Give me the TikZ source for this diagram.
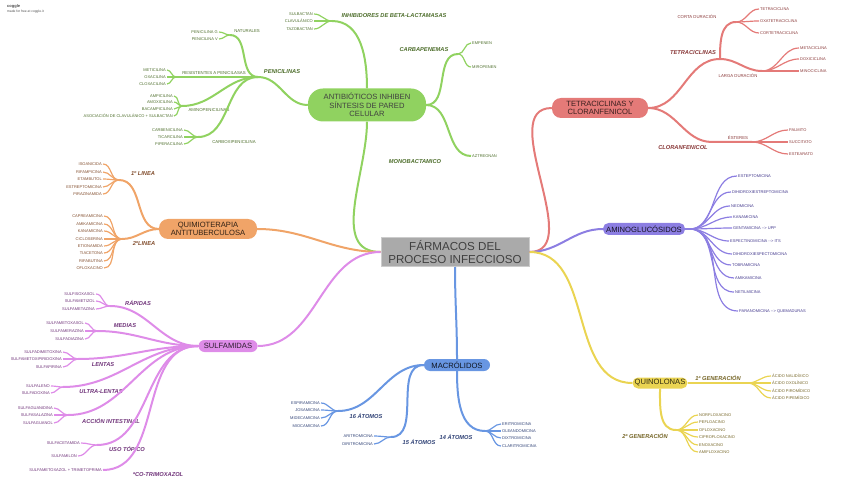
\documentclass[tikz,border=0pt]{standalone}
\usepackage{fontspec}
\setmainfont{Liberation Sans}
\usepackage{tikz}
\usetikzlibrary{positioning}
\usepackage{xcolor}
\definecolor{grn}{RGB}{144,210,96}
\definecolor{gtx}{RGB}{78,110,44}
\definecolor{red}{RGB}{228,122,120}
\definecolor{rtx}{RGB}{138,58,58}
\definecolor{prp}{RGB}{140,126,226}
\definecolor{ptx}{RGB}{66,56,140}
\definecolor{ylw}{RGB}{234,212,82}
\definecolor{ytx}{RGB}{118,102,40}
\definecolor{blu}{RGB}{104,150,226}
\definecolor{btx}{RGB}{48,66,118}
\definecolor{org}{RGB}{240,164,104}
\definecolor{otx}{RGB}{130,78,46}
\definecolor{pnk}{RGB}{222,140,232}
\definecolor{mtx}{RGB}{112,52,122}
\definecolor{gry}{RGB}{170,170,170}
\newcommand{\leaffont}{\fontsize{4}{4.6}\selectfont}
\newcommand{\midfont}{\fontsize{4.3}{5}\selectfont}
\newcommand{\grpfont}{\fontsize{5.7}{6.5}\selectfont\bfseries\itshape}
\newcommand{\topfont}{\fontsize{7.6}{8.6}\selectfont}

\begin{document}
\begin{tikzpicture}[
    x=1pt, y=-1pt,
    topic/.style={
      rectangle, fill=#1, font=\topfont, align=center, inner sep=0pt
    },
    branch/.style={draw=#1, line width=2pt},
    twig/.style={draw=#1, line width=1.2pt},
    leafL/.style={anchor=east, font=\leaffont, text=#1, inner sep=1pt},
    leafR/.style={anchor=west, font=\leaffont, text=#1, inner sep=1pt},
    mid/.style={font=\midfont, text=#1, inner sep=0pt},
    grp/.style={font=\grpfont, text=#1, inner sep=0pt}
  ]
  \useasboundingbox (0,0) rectangle (848,486);

  % --- Watermark ---
  \node[anchor=west, inner sep=0pt, font=\fontsize{4}{5}\selectfont\bfseries, text=black!70] (cg) at (7,6) {coggle};
  \node[anchor=west, inner sep=0pt, font=\fontsize{3.3}{4}\selectfont, text=black!70] (cgmade) at (7,12) {made for free at coggle.it};

  % --- Main topics ---
  \node[topic=gry, draw=black!20, line width=1pt, minimum width=148, minimum height=29,
    font=\fontsize{11.6}{13}\selectfont, text=black!75] (farm) at (455,252)
    {FÁRMACOS DEL\\PROCESO INFECCIOSO};
  \node[topic=grn, rounded corners=15pt, minimum width=118, minimum height=33, text=black!75] (antib) at (367,105)
    {ANTIBIÓTICOS INHIBEN\\SÍNTESIS DE PARED\\CELULAR};
  \node[topic=red, rounded corners=9pt, minimum width=96, minimum height=20, text=black!75!red] (tetra) at (600,108)
    {TETRACICLINAS Y\\CLORANFENICOL};
  \node[topic=prp, rounded corners=5.5pt, minimum width=82, minimum height=12, text=black!85!prp] (amino) at (644,229)
    {AMINOGLUCÓSIDOS};
  \node[topic=ylw, rounded corners=5.5pt, minimum width=55, minimum height=11, text=black!80!ylw] (quin) at (660,383)
    {QUINOLONAS};
  \node[topic=blu, rounded corners=6pt, minimum width=66, minimum height=12, text=black!85!blu] (macro) at (457,365)
    {MACRÓLIDOS};
  \node[topic=pnk, rounded corners=6pt, minimum width=59, minimum height=12, text=black!80!pnk] (sulf) at (228,346)
    {SULFAMIDAS};
  \node[topic=org, rounded corners=9pt, minimum width=98, minimum height=20, text=black!80!org] (quim) at (208,229)
    {QUIMIOTERAPIA\\ANTITUBERCULOSA};

  \draw[branch=grn] (farm.west) to[out=180,in=270] (antib.south);
  \draw[branch=org] (farm.west) to[out=180,in=0] (quim.east);
  \draw[branch=pnk] (farm.west) to[out=180,in=0] (sulf.east);
  \draw[branch=red] (farm.east) to[out=0,in=180] (tetra.west);
  \draw[branch=prp] (farm.east) to[out=0,in=180] (amino.west);
  \draw[branch=ylw] (farm.east) to[out=0,in=180] (quin.west);
  \draw[branch=blu] (farm.south) to[out=270,in=90] (macro.north);

  % --- Green: cell wall ---
  \coordinate (penHub) at (258,77);
  \coordinate (natSplit) at (230,35);
  \coordinate (resSplit) at (176,77);
  \coordinate (amiSplit) at (182,106);
  \coordinate (carSplit) at (198,137);
  \coordinate (inhSplit) at (332,21);
  \coordinate (cbpSplit) at (458,54);

  \node[grp=gtx] (penLbl) at (282,72) {PENICILINAS};
  \node[mid=gtx] (natLbl) at (247,31) {NATURALES};
  \node[mid=gtx] (resLbl) at (214,73) {RESISTENTES A PENICILASAS};
  \node[mid=gtx] (amiLbl) at (209,110) {AMINOPENICILINAS};
  \node[mid=gtx] (carLbl) at (234,142) {CARBOXIPENICILINA};
  \node[grp=gtx] (inhLbl) at (394,16) {INHIBIDORES DE BETA-LACTAMASAS};
  \node[grp=gtx] (cbpLbl) at (424,50) {CARBAPENEMAS};
  \node[grp=gtx] (monLbl) at (415,162) {MONOBACTAMICO};

  \node[leafL=gtx] (penG) at (219,32) {PENICILINA G};
  \node[leafL=gtx] (penV) at (219,39) {PENICILINA V};
  \node[leafL=gtx] (meti) at (167,70) {METICILINA};
  \node[leafL=gtx] (oxac) at (167,77) {OXACILINA};
  \node[leafL=gtx] (clox) at (167,84) {CLOXACILINA};
  \node[leafL=gtx] (ampi) at (174,96) {AMPICILINA};
  \node[leafL=gtx] (amox) at (174,102) {AMOXICILINA};
  \node[leafL=gtx] (baca) at (174,109) {BACAMPICILINA};
  \node[leafL=gtx] (asoc) at (174,116) {ASOCIACIÓN DE CLAVULÁNICO + SULBACTAN};
  \node[leafL=gtx] (carb) at (184,130) {CARBENICILINA};
  \node[leafL=gtx] (tica) at (184,137) {TICARCILINA};
  \node[leafL=gtx] (pipe) at (184,144) {PIPERACILINA};
  \node[leafL=gtx] (sulb) at (314,14) {SULBACTAN};
  \node[leafL=gtx] (clav) at (314,21) {CLAVULÁNICO};
  \node[leafL=gtx] (tazo) at (314,29) {TAZOBACTAN};
  \node[leafR=gtx] (empe) at (471,43) {EMPENEN};
  \node[leafR=gtx] (miro) at (471,67) {MIROPENEN};
  \node[leafR=gtx] (aztr) at (471,156) {AZTREONAN};

  \draw[branch=grn] (antib.west) to[out=180,in=0] (penHub);
  \draw[branch=grn] (penHub) to[out=180,in=0] (natSplit);
  \draw[branch=grn] (penHub) -- (resSplit);
  \draw[branch=grn] (penHub) to[out=180,in=0] (amiSplit);
  \draw[branch=grn] (penHub) to[out=180,in=0] (carSplit);
  \draw[branch=grn] (antib.north) to[out=90,in=0] (inhSplit);
  \draw[branch=grn] (antib.east) to[out=0,in=180] (cbpSplit);
  \draw[branch=grn] (antib.east) to[out=0,in=180] (aztr.west);
  \draw[twig=grn] (natSplit) to[out=180,in=0] (penG.east);
  \draw[twig=grn] (natSplit) to[out=180,in=0] (penV.east);
  \draw[twig=grn] (resSplit) to[out=180,in=0] (meti.east);
  \draw[twig=grn] (resSplit) to[out=180,in=0] (oxac.east);
  \draw[twig=grn] (resSplit) to[out=180,in=0] (clox.east);
  \draw[twig=grn] (amiSplit) to[out=180,in=0] (ampi.east);
  \draw[twig=grn] (amiSplit) to[out=180,in=0] (amox.east);
  \draw[twig=grn] (amiSplit) to[out=180,in=0] (baca.east);
  \draw[twig=grn] (amiSplit) to[out=180,in=0] (asoc.east);
  \draw[twig=grn] (carSplit) to[out=180,in=0] (carb.east);
  \draw[twig=grn] (carSplit) to[out=180,in=0] (tica.east);
  \draw[twig=grn] (carSplit) to[out=180,in=0] (pipe.east);
  \draw[twig=grn] (inhSplit) to[out=180,in=0] (sulb.east);
  \draw[twig=grn] (inhSplit) to[out=180,in=0] (clav.east);
  \draw[twig=grn] (inhSplit) to[out=180,in=0] (tazo.east);
  \draw[twig=grn] (cbpSplit) to[out=0,in=180] (empe.west);
  \draw[twig=grn] (cbpSplit) to[out=0,in=180] (miro.west);

  % --- Red: tetraciclinas ---
  \coordinate (tetHub) at (720,59);
  \coordinate (corSplit) at (736,22);
  \coordinate (larSplit) at (762,71);
  \coordinate (cloHub) at (712,142);
  \coordinate (estSplit) at (752,142);

  \node[grp=rtx] (tetLbl) at (693,53) {TETRACICLINAS};
  \node[mid=rtx] (corLbl) at (697,17) {CORTA DURACIÓN};
  \node[mid=rtx] (larLbl) at (738,76) {LARGA DURACIÓN};
  \node[grp=rtx] (cloLbl) at (683,148) {CLORANFENICOL};
  \node[mid=rtx] (estLbl) at (738,138) {ÉSTERES};

  \node[leafR=rtx] (tetr) at (759,9) {TETRACICLINA};
  \node[leafR=rtx] (oxat) at (759,21) {OXATETRACICLINA};
  \node[leafR=rtx] (cort) at (759,33) {CORTETRACICLINA};
  \node[leafR=rtx] (meta) at (799,48) {METACICLINA};
  \node[leafR=rtx] (doxi) at (799,59) {DOXICICLINA};
  \node[leafR=rtx] (mino) at (799,71) {MINOCICLINA};
  \node[leafR=rtx] (palm) at (788,130) {PALMITO};
  \node[leafR=rtx] (succ) at (788,142) {SUCCITATO};
  \node[leafR=rtx] (este) at (788,154) {ESTEARATO};

  \draw[branch=red] (tetra.east) to[out=0,in=180] (tetHub);
  \draw[branch=red] (tetHub) to[out=90,in=180] (corSplit);
  \draw[branch=red] (tetHub) to[out=0,in=180] (larSplit);
  \draw[branch=red] (tetra.east) to[out=0,in=180] (cloHub) -- (estSplit);
  \draw[twig=red] (corSplit) to[out=0,in=180] (tetr.west);
  \draw[twig=red] (corSplit) to[out=0,in=180] (oxat.west);
  \draw[twig=red] (corSplit) to[out=0,in=180] (cort.west);
  \draw[twig=red] (larSplit) to[out=0,in=180] (meta.west);
  \draw[twig=red] (larSplit) to[out=0,in=180] (doxi.west);
  \draw[twig=red] (larSplit) to[out=0,in=180] (mino.west);
  \draw[twig=red] (estSplit) to[out=0,in=180] (palm.west);
  \draw[twig=red] (estSplit) to[out=0,in=180] (succ.west);
  \draw[twig=red] (estSplit) to[out=0,in=180] (este.west);

  % --- Purple: aminoglucosidos ---
  \coordinate (amgHub) at (690,229);
  \node[leafR=ptx] (estp) at (737,176) {ESTEPTOMICINA};
  \node[leafR=ptx] (dhes) at (731,192) {DIHIDROXIESTREPTOMICINA};
  \node[leafR=ptx] (neom) at (730,206) {NEOMICINA};
  \node[leafR=ptx] (kana) at (732,217) {KANAMICINA};
  \node[leafR=ptx] (gent) at (732,228) {GENTAMICINA -{}-> UPP};
  \node[leafR=ptx] (espe) at (729,241) {ESPECTINOMICINA -{}-> ITS};
  \node[leafR=ptx] (dhsp) at (732,254) {DIHIDROXIESPECTOMICINA};
  \node[leafR=ptx] (tobr) at (731,265) {TOBRAMICINA};
  \node[leafR=ptx] (amik) at (734,278) {AMIKAMICINA};
  \node[leafR=ptx] (neti) at (734,292) {NETILMICINA};
  \node[leafR=ptx] (para) at (738,311) {PARANOMICINA -{}-> QUEMADURAS};

  \draw[twig=prp] (amino.east) -- (amgHub);
  \draw[twig=prp] (amgHub) to[out=0,in=180] (estp.west);
  \draw[twig=prp] (amgHub) to[out=0,in=180] (dhes.west);
  \draw[twig=prp] (amgHub) to[out=0,in=180] (neom.west);
  \draw[twig=prp] (amgHub) to[out=0,in=180] (kana.west);
  \draw[twig=prp] (amgHub) to[out=0,in=180] (gent.west);
  \draw[twig=prp] (amgHub) to[out=0,in=180] (espe.west);
  \draw[twig=prp] (amgHub) to[out=0,in=180] (dhsp.west);
  \draw[twig=prp] (amgHub) to[out=0,in=180] (tobr.west);
  \draw[twig=prp] (amgHub) to[out=0,in=180] (amik.west);
  \draw[twig=prp] (amgHub) to[out=0,in=180] (neti.west);
  \draw[twig=prp] (amgHub) to[out=0,in=180] (para.west);

  % --- Yellow: quinolonas ---
  \coordinate (g1Split) at (748,383);
  \coordinate (g2Split) at (676,430);
  \node[grp=ytx] (g1Lbl) at (718,378) {1ª GENERACIÓN};
  \node[grp=ytx] (g2Lbl) at (645,436) {2ª GENERACIÓN};

  \node[leafR=ytx] (nali) at (771,376) {ÁCIDO NALIDÍXICO};
  \node[leafR=ytx] (oxol) at (771,383) {ÁCIDO OXOLÍNICO};
  \node[leafR=ytx] (piro) at (771,391) {ÁCIDO PIROMÍDICO};
  \node[leafR=ytx] (pipm) at (771,398) {ÁCIDO PIPEMÍDICO};
  \node[leafR=ytx] (norf) at (698,415) {NORFLOXACINO};
  \node[leafR=ytx] (pefl) at (698,422) {PEFLOACINO};
  \node[leafR=ytx] (oflo) at (698,430) {OFLOXACINO};
  \node[leafR=ytx] (cipr) at (698,437) {CIPROFLOXACINO};
  \node[leafR=ytx] (enox) at (698,445) {ENOXACINO};
  \node[leafR=ytx] (amif) at (698,452) {AMIFLOXACINO};

  \draw[branch=ylw] (quin.east) -- (g1Split);
  \draw[branch=ylw] (quin.south) to[out=270,in=180] (g2Split);
  \draw[twig=ylw] (g1Split) to[out=0,in=180] (nali.west);
  \draw[twig=ylw] (g1Split) to[out=0,in=180] (oxol.west);
  \draw[twig=ylw] (g1Split) to[out=0,in=180] (piro.west);
  \draw[twig=ylw] (g1Split) to[out=0,in=180] (pipm.west);
  \draw[twig=ylw] (g2Split) to[out=0,in=180] (norf.west);
  \draw[twig=ylw] (g2Split) to[out=0,in=180] (pefl.west);
  \draw[twig=ylw] (g2Split) to[out=0,in=180] (oflo.west);
  \draw[twig=ylw] (g2Split) to[out=0,in=180] (cipr.west);
  \draw[twig=ylw] (g2Split) to[out=0,in=180] (enox.west);
  \draw[twig=ylw] (g2Split) to[out=0,in=180] (amif.west);

  % --- Blue: macrolidos ---
  \coordinate (a16Split) at (338,411);
  \coordinate (a15Split) at (391,437);
  \coordinate (a14Split) at (485,431);
  \node[grp=btx] (a16Lbl) at (366,416) {16 ÁTOMOS};
  \node[grp=btx] (a15Lbl) at (419,442) {15 ÁTOMOS};
  \node[grp=btx] (a14Lbl) at (456,437) {14 ÁTOMOS};

  \node[leafL=btx] (espi) at (321,403) {ESPIRAMICINA};
  \node[leafL=btx] (josa) at (321,410) {JOSAMICINA};
  \node[leafL=btx] (mide) at (321,418) {MIDECAMICINA};
  \node[leafL=btx] (mioc) at (321,426) {MIOCAMICINA};
  \node[leafL=btx] (arit) at (374,436) {ARITROMICINA};
  \node[leafL=btx] (diri) at (374,444) {DIRITROMICINA};
  \node[leafR=btx] (erit) at (501,424) {ERITROMICINA};
  \node[leafR=btx] (olea) at (501,431) {OLEANDOMICINA};
  \node[leafR=btx] (dixt) at (501,438) {DIXTROMICINA};
  \node[leafR=btx] (clar) at (501,446) {CLARITROMICINA};

  \draw[branch=blu] (macro.west) to[out=180,in=0] (a16Split);
  \draw[branch=blu] (macro.west) to[out=180,in=0] (a15Split);
  \draw[branch=blu] (macro.south) to[out=270,in=180] (a14Split);
  \draw[twig=blu] (a16Split) to[out=180,in=0] (espi.east);
  \draw[twig=blu] (a16Split) to[out=180,in=0] (josa.east);
  \draw[twig=blu] (a16Split) to[out=180,in=0] (mide.east);
  \draw[twig=blu] (a16Split) to[out=180,in=0] (mioc.east);
  \draw[twig=blu] (a15Split) to[out=180,in=0] (arit.east);
  \draw[twig=blu] (a15Split) to[out=180,in=0] (diri.east);
  \draw[twig=blu] (a14Split) to[out=0,in=180] (erit.west);
  \draw[twig=blu] (a14Split) to[out=0,in=180] (olea.west);
  \draw[twig=blu] (a14Split) to[out=0,in=180] (dixt.west);
  \draw[twig=blu] (a14Split) to[out=0,in=180] (clar.west);

  % --- Orange: antituberculosa ---
  \coordinate (l1Split) at (119,180);
  \coordinate (l2Split) at (122,239);
  \node[grp=otx] (l1Lbl) at (143,174) {1º LINEA};
  \node[grp=otx] (l2Lbl) at (144,244) {2ºLINEA};

  \node[leafL=otx] (isoa) at (103,164) {ISOANICIDA};
  \node[leafL=otx] (rifa) at (103,172) {RIFAMPICINA};
  \node[leafL=otx] (etam) at (103,179) {ETAMBUTOL};
  \node[leafL=otx] (estr) at (103,187) {ESTREPTOMICINA};
  \node[leafL=otx] (pira) at (103,194) {PIRAZINAMIDA};
  \node[leafL=otx] (capr) at (104,216) {CAPREAMICINA};
  \node[leafL=otx] (amkm) at (104,224) {AMIKAMICINA};
  \node[leafL=otx] (kanm) at (104,231) {KANAMICINA};
  \node[leafL=otx] (cicl) at (104,239) {CICLOSERINA};
  \node[leafL=otx] (etio) at (104,246) {ETIONAMIDA};
  \node[leafL=otx] (tiac) at (104,253) {TIACETONA};
  \node[leafL=otx] (rifb) at (104,261) {RIFABUTINA};
  \node[leafL=otx] (oflx) at (104,268) {OFLOXACINO};

  \draw[branch=org] (quim.west) to[out=180,in=0] (l1Split);
  \draw[branch=org] (quim.west) to[out=180,in=0] (l2Split);
  \draw[twig=org] (l1Split) to[out=180,in=0] (isoa.east);
  \draw[twig=org] (l1Split) to[out=180,in=0] (rifa.east);
  \draw[twig=org] (l1Split) to[out=180,in=0] (etam.east);
  \draw[twig=org] (l1Split) to[out=180,in=0] (estr.east);
  \draw[twig=org] (l1Split) to[out=180,in=0] (pira.east);
  \draw[twig=org] (l2Split) to[out=180,in=0] (capr.east);
  \draw[twig=org] (l2Split) to[out=180,in=0] (amkm.east);
  \draw[twig=org] (l2Split) to[out=180,in=0] (kanm.east);
  \draw[twig=org] (l2Split) to[out=180,in=0] (cicl.east);
  \draw[twig=org] (l2Split) to[out=180,in=0] (etio.east);
  \draw[twig=org] (l2Split) to[out=180,in=0] (tiac.east);
  \draw[twig=org] (l2Split) to[out=180,in=0] (rifb.east);
  \draw[twig=org] (l2Split) to[out=180,in=0] (oflx.east);

  % --- Pink: sulfamidas ---
  \coordinate (sulHub) at (198,346);
  \coordinate (rapSplit) at (110,306);
  \coordinate (medSplit) at (97,331);
  \coordinate (lenSplit) at (78,359);
  \coordinate (ultSplit) at (63,387);
  \coordinate (accSplit) at (68,415);
  \coordinate (usoSplit) at (97,445);
  \node[grp=mtx] (rapLbl) at (138,303) {RÁPIDAS};
  \node[grp=mtx] (medLbl) at (125,326) {MEDIAS};
  \node[grp=mtx] (lenLbl) at (103,365) {LENTAS};
  \node[grp=mtx] (ultLbl) at (101,392) {ULTRA-LENTAS};
  \node[grp=mtx] (accLbl) at (111,421) {ACCIÓN INTESTINAL};
  \node[grp=mtx] (usoLbl) at (127,449) {USO TÓPICO};
  \node[grp=mtx] (cotLbl) at (158,475) {*CO-TRIMOXAZOL};

  \node[leafL=mtx] (sfis) at (96,294) {SULFISOXASOL};
  \node[leafL=mtx] (sfmz) at (96,301) {SULFAMETIZOL};
  \node[leafL=mtx] (sfmt) at (96,309) {SULFAMETAZINA};
  \node[leafL=mtx] (sfmx) at (85,323) {SULFAMETOXASOL};
  \node[leafL=mtx] (sfmr) at (85,331) {SULFAMERAZINA};
  \node[leafL=mtx] (sfdz) at (85,339) {SULFADIAZINA};
  \node[leafL=mtx] (sfdm) at (63,352) {SULFADIMETOXINA};
  \node[leafL=mtx] (sfmp) at (63,359) {SULFAMETOXIPIRIDOXINA};
  \node[leafL=mtx] (sfpi) at (63,367) {SULFAPIRINA};
  \node[leafL=mtx] (sfle) at (51,386) {SULFALENO};
  \node[leafL=mtx] (sfdo) at (51,393) {SULFADOXINA};
  \node[leafL=mtx] (sfgd) at (54,408) {SULFAGUANIDINA};
  \node[leafL=mtx] (sfsa) at (54,415) {SULFASALAZINA};
  \node[leafL=mtx] (sfgn) at (54,423) {SULFAGUANOL};
  \node[leafL=mtx] (sfce) at (81,443) {SULFACETAMIDA};
  \node[leafL=mtx] (sfml) at (78,456) {SULFAMILON};
  \node[leafL=mtx] (sftr) at (103,470) {SULFAMETOXAZOL + TRIMETOPRIMA};

  \draw[branch=pnk] (sulf.west) -- (sulHub);
  \draw[branch=pnk] (sulHub) to[out=180,in=0] (rapSplit);
  \draw[branch=pnk] (sulHub) to[out=180,in=0] (medSplit);
  \draw[branch=pnk] (sulHub) to[out=180,in=0] (lenSplit);
  \draw[branch=pnk] (sulHub) to[out=180,in=0] (ultSplit);
  \draw[branch=pnk] (sulHub) to[out=180,in=0] (accSplit);
  \draw[branch=pnk] (sulHub) to[out=180,in=0] (usoSplit);
  \draw[branch=pnk] (sulHub) to[out=180,in=0] (sftr.east);
  \draw[twig=pnk] (rapSplit) to[out=180,in=0] (sfis.east);
  \draw[twig=pnk] (rapSplit) to[out=180,in=0] (sfmz.east);
  \draw[twig=pnk] (rapSplit) to[out=180,in=0] (sfmt.east);
  \draw[twig=pnk] (medSplit) to[out=180,in=0] (sfmx.east);
  \draw[twig=pnk] (medSplit) to[out=180,in=0] (sfmr.east);
  \draw[twig=pnk] (medSplit) to[out=180,in=0] (sfdz.east);
  \draw[twig=pnk] (lenSplit) to[out=180,in=0] (sfdm.east);
  \draw[twig=pnk] (lenSplit) to[out=180,in=0] (sfmp.east);
  \draw[twig=pnk] (lenSplit) to[out=180,in=0] (sfpi.east);
  \draw[twig=pnk] (ultSplit) to[out=180,in=0] (sfle.east);
  \draw[twig=pnk] (ultSplit) to[out=180,in=0] (sfdo.east);
  \draw[twig=pnk] (accSplit) to[out=180,in=0] (sfgd.east);
  \draw[twig=pnk] (accSplit) to[out=180,in=0] (sfsa.east);
  \draw[twig=pnk] (accSplit) to[out=180,in=0] (sfgn.east);
  \draw[twig=pnk] (usoSplit) to[out=180,in=0] (sfce.east);
  \draw[twig=pnk] (usoSplit) to[out=180,in=0] (sfml.east);
\end{tikzpicture}
\end{document}
